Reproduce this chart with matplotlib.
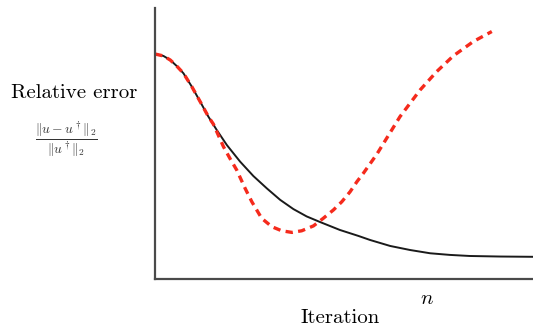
import matplotlib.pyplot as plt

plt.rcParams["mathtext.fontset"] = "cm"

# Curves (x: iteration fraction, y: relative error)
smooth_x = [0.0, 0.022, 0.040, 0.057, 0.075, 0.097, 0.119, 0.141, 0.163,
            0.190, 0.225, 0.260, 0.296, 0.331, 0.366, 0.401, 0.437, 0.489,
            0.538, 0.569, 0.622, 0.675, 0.728, 0.780, 0.833, 0.913, 1.0]
smooth_y = [0.830, 0.823, 0.808, 0.786, 0.759, 0.710, 0.655, 0.599, 0.550,
            0.494, 0.433, 0.380, 0.334, 0.292, 0.258, 0.231, 0.210, 0.181,
            0.159, 0.144, 0.122, 0.107, 0.095, 0.089, 0.085, 0.083, 0.082]

semi_x = [0.0, 0.022, 0.040, 0.057, 0.075, 0.097, 0.119, 0.141, 0.154,
          0.181, 0.198, 0.216, 0.238, 0.256, 0.282, 0.309, 0.335, 0.362,
          0.388, 0.419, 0.445, 0.472, 0.494, 0.516, 0.534, 0.551, 0.587,
          0.648, 0.701, 0.745, 0.789, 0.842, 0.891]
semi_y = [0.830, 0.823, 0.808, 0.786, 0.759, 0.710, 0.655, 0.599, 0.572,
          0.488, 0.445, 0.402, 0.335, 0.285, 0.224, 0.193, 0.178, 0.172,
          0.178, 0.196, 0.224, 0.255, 0.285, 0.322, 0.359, 0.390, 0.461,
          0.599, 0.697, 0.765, 0.823, 0.876, 0.913]

fig = plt.figure(figsize=(5.33, 3.31), dpi=100)
ax = fig.add_axes([0.291, 0.157, 0.709, 0.819])

ax.plot(smooth_x, smooth_y, color="#1a1a1a", lw=1.4)
ax.plot(semi_x, semi_y, color="#f52a1c", lw=2.4, ls=(0, (2.2, 1.6)))

ax.set_xlim(0, 1)
ax.set_ylim(0, 1)
ax.set_xticks([])
ax.set_yticks([])
for side in ["top", "right"]:
    ax.spines[side].set_visible(False)
for side in ["left", "bottom"]:
    ax.spines[side].set_color("#4a4a4a")
    ax.spines[side].set_linewidth(1.6)

fig.text(0.140, 0.719, "Relative error", family="cmr10", fontsize=15,
         ha="center", va="center")
fig.text(0.124, 0.577, r"$\frac{\|u-u^\dagger\|_2}{\|u^\dagger\|_2}$",
         fontsize=14, ha="center", va="center", color="#333333")
fig.text(0.801, 0.100, r"$n$", fontsize=15, ha="center", va="center")
fig.text(0.638, 0.039, "Iteration", family="cmr10", fontsize=15,
         ha="center", va="center")

fig.savefig("out.png", dpi=100)
